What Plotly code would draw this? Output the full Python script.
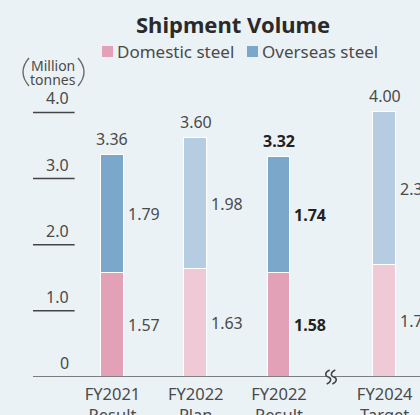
import plotly.graph_objects as go

# ---- data ----
categories = ["FY2021<br>Result", "FY2022<br>Plan", "FY2022<br>Result", "FY2024<br>Target"]
domestic = [1.57, 1.63, 1.58, 1.70]
overseas = [1.79, 1.98, 1.74, 2.30]
totals = [3.36, 3.60, 3.32, 4.00]
actual = [True, False, True, False]      # results vs plan/target
emphasis = [False, False, True, False]   # latest result shown in bold
y_ticks = [0, 1, 2, 3, 4]
y_tick_labels = ["0", "1.0", "2.0", "3.0", "4.0"]

# ---- layout constants ----
W, H = 420, 415
M_T, M_B = 86, 38
x_pos = [0, 1, 2, 3.27]          # slot positions (gap before the target year)
BAR_W = 0.27
X_RANGE = [-1.351, 3.694]
Y_RANGE = [0, 4.4]
BG = "#EBF2F6"
TXT = "#4a4a4a"
DARK = "#222222"
FONT = "Noto Sans"


def px_x(px):
    return px / W


def px_y(py):
    return (H - M_B - py) / (H - M_T - M_B)


dom_col = ["#E3A1B7" if a else "#F0C9D7" for a in actual]
ovs_col = ["#7BA7CB" if a else "#B6CCE1" for a in actual]

fig = go.Figure()
fig.add_trace(go.Bar(x=x_pos, y=domestic, name="Domestic steel", width=BAR_W,
                     marker=dict(color=dom_col, line=dict(color="white", width=1)),
                     showlegend=False))
fig.add_trace(go.Bar(x=x_pos, y=overseas, name="Overseas steel", width=BAR_W,
                     marker=dict(color=ovs_col, line=dict(color="white", width=1)),
                     showlegend=False))

ann = []
shapes = []

# value labels
for xp, d, o, t, b in zip(x_pos, domestic, overseas, totals, emphasis):
    col = DARK if b else TXT
    fmt = (lambda s: f"<b>{s}</b>") if b else (lambda s: s)
    ann.append(dict(x=xp, y=d + o, text=fmt(f"{t:.2f}"), showarrow=False,
                    xanchor="center", yanchor="bottom", yshift=3,
                    font=dict(size=16, color=col, family=FONT)))
    ann.append(dict(x=xp + BAR_W / 2, y=d + o / 2, text=fmt(f"{o:.2f}"), showarrow=False,
                    xanchor="left", yanchor="middle", xshift=2,
                    font=dict(size=16, color=col, family=FONT)))
    ann.append(dict(x=xp + BAR_W / 2, y=d / 2, text=fmt(f"{d:.2f}"), showarrow=False,
                    xanchor="left", yanchor="middle", xshift=2,
                    font=dict(size=16, color=col, family=FONT)))

# y ticks: label sitting above a short rule
for v, lab in zip(y_ticks, y_tick_labels):
    ann.append(dict(x=-0.46, y=v, text=lab, showarrow=False, xanchor="right",
                    yanchor="bottom", xshift=-3, yshift=1,
                    font=dict(size=16, color=TXT, family=FONT)))
    if v > 0:
        shapes.append(dict(type="line", xref="x", yref="y", x0=-0.955, x1=-0.455,
                           y0=v, y1=v, line=dict(color="#444", width=1.5)))

# baseline
shapes.append(dict(type="line", xref="x", yref="y", x0=-0.955, x1=X_RANGE[1],
                   y0=0, y1=0, line=dict(color="#555", width=1.5)))

# axis break mark (two small S strokes interrupting the baseline)
BRK_X, BRK_Y = 331, H - M_B
shapes.append(dict(type="rect", xref="paper", yref="paper",
                   x0=px_x(BRK_X - 3), x1=px_x(BRK_X + 3),
                   y0=px_y(BRK_Y + 2), y1=px_y(BRK_Y - 2),
                   line=dict(width=0), fillcolor=BG))
for cx in (BRK_X - 2.8, BRK_X + 2.8):
    pts = [(cx + 1.5, BRK_Y - 7), (cx - 3.5, BRK_Y - 5), (cx - 3.5, BRK_Y - 1), (cx, BRK_Y),
           (cx + 3.5, BRK_Y + 1), (cx + 3.5, BRK_Y + 5), (cx - 1.5, BRK_Y + 7)]
    p = [f"{px_x(a):.5f},{px_y(b):.5f}" for a, b in pts]
    path = f"M {p[0]} C {p[1]} {p[2]} {p[3]} C {p[4]} {p[5]} {p[6]}"
    shapes.append(dict(type="path", xref="paper", yref="paper", path=path,
                       line=dict(color="#444", width=1.5)))

# title
ann.append(dict(xref="paper", yref="paper", x=px_x(233), y=px_y(24),
                text="<b>Shipment Volume</b>", showarrow=False, xanchor="center",
                yanchor="middle", font=dict(size=22, color="#2a2a2a", family=FONT)))

# legend
legend_items = [("Domestic steel", dom_col[0], 102), ("Overseas steel", ovs_col[0], 247)]
for name, col, px in legend_items:
    shapes.append(dict(type="rect", xref="paper", yref="paper",
                       x0=px_x(px), x1=px_x(px + 11),
                       y0=px_y(57), y1=px_y(46),
                       line=dict(width=0), fillcolor=col))
    ann.append(dict(xref="paper", yref="paper", x=px_x(px + 13),
                    y=px_y(52), text=name, showarrow=False,
                    xanchor="left", yanchor="middle",
                    font=dict(size=17, color=TXT, family=FONT)))

# unit label with tall parentheses
for txt, py in (("Million", 65), ("tonnes", 79)):
    ann.append(dict(xref="paper", yref="paper", x=px_x(53), y=px_y(py),
                    text=txt, showarrow=False, xanchor="center", yanchor="middle",
                    font=dict(size=14, color=TXT, family=FONT)))
shapes.append(dict(type="path", xref="paper", yref="paper",
                   path=f"M {px_x(29)},{px_y(58)} Q {px_x(17)},{px_y(72)} {px_x(29)},{px_y(86)}",
                   line=dict(color="#666", width=1.3)))
shapes.append(dict(type="path", xref="paper", yref="paper",
                   path=f"M {px_x(78)},{px_y(58)} Q {px_x(90)},{px_y(72)} {px_x(78)},{px_y(86)}",
                   line=dict(color="#666", width=1.3)))

fig.update_layout(
    width=W, height=H,
    margin=dict(l=0, r=0, t=M_T, b=M_B, autoexpand=False),
    paper_bgcolor=BG, plot_bgcolor=BG,
    barmode="stack", bargap=0,
    annotations=ann, shapes=shapes,
    xaxis=dict(range=X_RANGE, tickmode="array", tickvals=x_pos, ticktext=categories,
               showgrid=False, zeroline=False, showline=False, ticks="",
               automargin=False, ticklabelstandoff=5,
               tickfont=dict(size=16.5, color=TXT, family=FONT)),
    yaxis=dict(range=Y_RANGE, showgrid=False, zeroline=False, showticklabels=False,
               showline=False, automargin=False),
)

fig.write_html("out.html")
